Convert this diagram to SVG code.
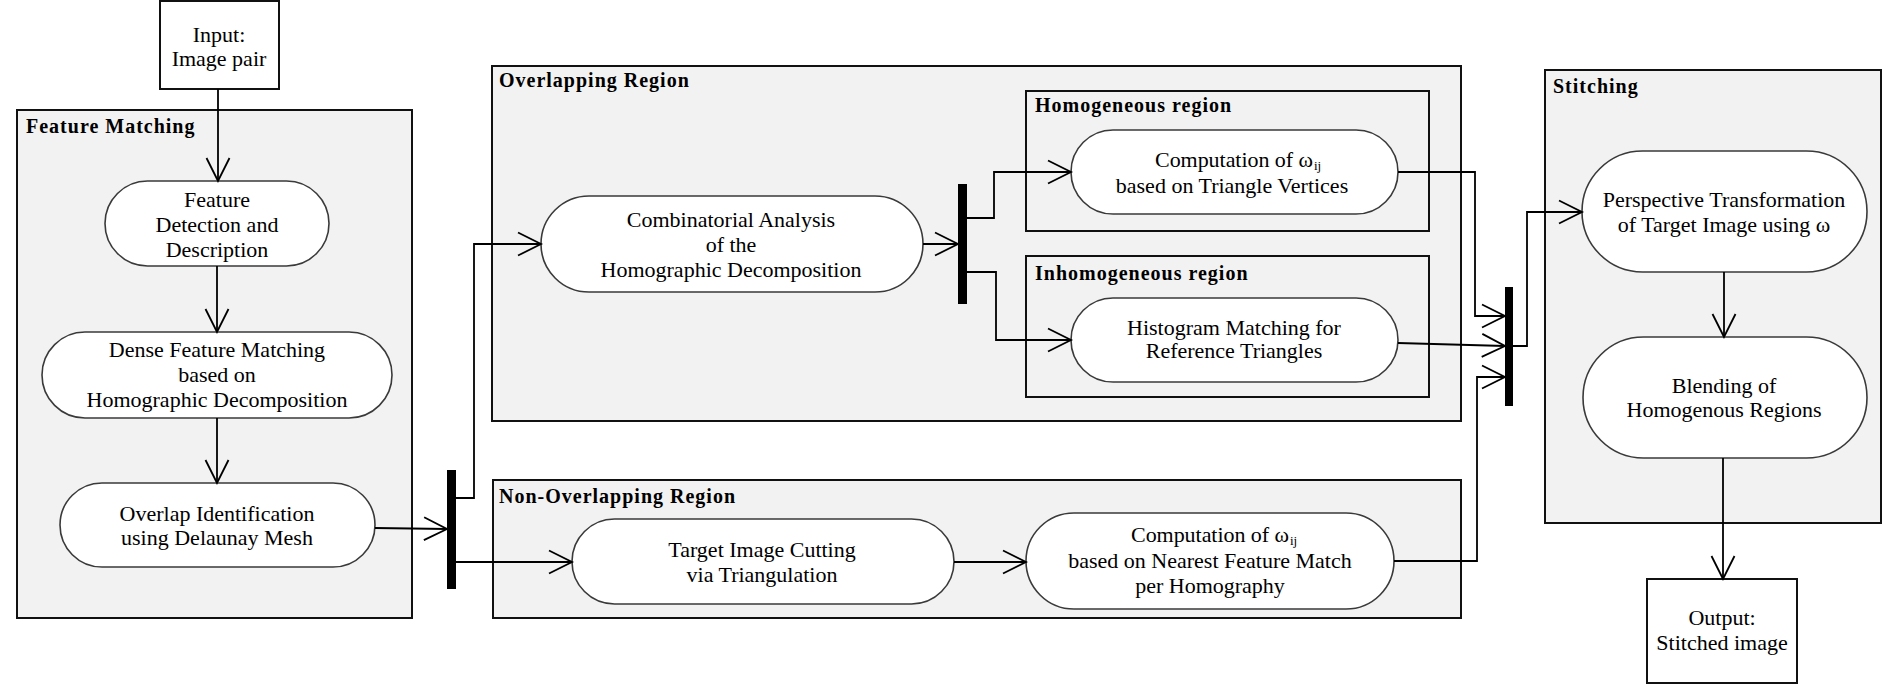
<svg xmlns="http://www.w3.org/2000/svg" width="1882" height="684" viewBox="0 0 1882 684">
<style>
.cont{fill:#f2f2f2;stroke:#111;stroke-width:2}
.node{fill:#fff;stroke:#3a3a3a;stroke-width:1.6}
.box{fill:#fff;stroke:#111;stroke-width:2}
.bar{fill:#000}
.t{font-family:"Liberation Serif","Times New Roman",serif;font-size:22px;fill:#000;text-anchor:middle}
.ts{font-family:"Liberation Serif","Times New Roman",serif;font-size:22px;fill:#000;text-anchor:start}
.sub{font-family:"Liberation Serif","Times New Roman",serif;font-size:13px;fill:#000;text-anchor:start}
.ttl{font-family:"Liberation Serif","Times New Roman",serif;font-size:20px;font-weight:bold;letter-spacing:1px;fill:#000}
.c{fill:none;stroke:#000;stroke-width:1.8}
</style>
<defs>
<marker id="arr" markerUnits="userSpaceOnUse" markerWidth="26" markerHeight="26" refX="23" refY="11.5" orient="auto" overflow="visible">
<path d="M0,0 L23,11.5 L0,23" fill="none" stroke="#000" stroke-width="1.8"/>
</marker>
</defs>
<rect width="1882" height="684" fill="#fff"/>

<g id="feature-matching">
<rect class="cont" x="17" y="110" width="395" height="508"/>
<text class="ttl" x="26" y="133">Feature Matching</text>
</g>
<g id="overlapping-region">
<rect class="cont" x="492" y="66" width="969" height="355"/>
<text class="ttl" x="499" y="87">Overlapping Region</text>
</g>
<g id="homogeneous-region">
<rect class="cont" x="1026" y="91" width="403" height="140"/>
<text class="ttl" x="1035" y="112">Homogeneous region</text>
</g>
<g id="inhomogeneous-region">
<rect class="cont" x="1026" y="256" width="403" height="141"/>
<text class="ttl" x="1035" y="280">Inhomogeneous region</text>
</g>
<g id="non-overlapping-region">
<rect class="cont" x="493" y="480" width="968" height="138"/>
<text class="ttl" x="499" y="503">Non-Overlapping Region</text>
</g>
<g id="stitching">
<rect class="cont" x="1545" y="70" width="336" height="453"/>
<text class="ttl" x="1553" y="93">Stitching</text>
</g>

<g id="input">
<rect class="box" x="160" y="1" width="119" height="88"/>
<text class="t" x="219" y="42">Input:</text>
<text class="t" x="219" y="66">Image pair</text>
</g>
<g id="feature-detection">
<rect class="node" x="105" y="181" width="224" height="85" rx="42.5"/>
<text class="t" x="217" y="207">Feature</text>
<text class="t" x="217" y="232">Detection and</text>
<text class="t" x="217" y="257">Description</text>
</g>
<g id="dense-matching">
<rect class="node" x="42" y="332" width="350" height="86" rx="43"/>
<text class="t" x="217" y="357">Dense Feature Matching</text>
<text class="t" x="217" y="382">based on</text>
<text class="t" x="217" y="407">Homographic Decomposition</text>
</g>
<g id="overlap-identification">
<rect class="node" x="60" y="483" width="315" height="84" rx="42"/>
<text class="t" x="217" y="521">Overlap Identification</text>
<text class="t" x="217" y="545">using Delaunay Mesh</text>
</g>
<g id="combinatorial">
<rect class="node" x="541" y="196" width="382" height="96" rx="48"/>
<text class="t" x="731" y="227">Combinatorial Analysis</text>
<text class="t" x="731" y="252">of the</text>
<text class="t" x="731" y="277">Homographic Decomposition</text>
</g>
<g id="computation-vertices">
<rect class="node" x="1071" y="130" width="327" height="84" rx="42"/>
<text class="ts" x="1155" y="167" textLength="158" lengthAdjust="spacing">Computation of ω</text>
<text class="sub" x="1314" y="170">ij</text>
<text class="t" x="1232" y="193">based on Triangle Vertices</text>
</g>
<g id="histogram-matching">
<rect class="node" x="1071" y="298" width="327" height="84" rx="42"/>
<text class="t" x="1234" y="335">Histogram Matching for</text>
<text class="t" x="1234" y="358">Reference Triangles</text>
</g>
<g id="target-cutting">
<rect class="node" x="572" y="519" width="382" height="85" rx="42.5"/>
<text class="t" x="762" y="557">Target Image Cutting</text>
<text class="t" x="762" y="582">via Triangulation</text>
</g>
<g id="computation-nearest">
<rect class="node" x="1026" y="513" width="368" height="96" rx="48"/>
<text class="ts" x="1131" y="542" textLength="158" lengthAdjust="spacing">Computation of ω</text>
<text class="sub" x="1290" y="545">ij</text>
<text class="t" x="1210" y="568">based on Nearest Feature Match</text>
<text class="t" x="1210" y="593">per Homography</text>
</g>
<g id="perspective">
<rect class="node" x="1582" y="151" width="285" height="121" rx="60.5"/>
<text class="t" x="1724" y="207">Perspective Transformation</text>
<text class="t" x="1724" y="232">of Target Image using ω</text>
</g>
<g id="blending">
<rect class="node" x="1583" y="337" width="284" height="121" rx="60.5"/>
<text class="t" x="1724" y="393">Blending of</text>
<text class="t" x="1724" y="417">Homogenous Regions</text>
</g>
<g id="output">
<rect class="box" x="1647" y="579" width="150" height="104"/>
<text class="t" x="1722" y="625">Output:</text>
<text class="t" x="1722" y="650">Stitched image</text>
</g>

<g id="bars">
<rect class="bar" x="447" y="470" width="9" height="119"/>
<rect class="bar" x="958" y="184" width="9" height="120"/>
<rect class="bar" x="1505" y="287" width="8" height="119"/>
</g>

<g id="connectors">
<path class="c" d="M218,89 L218,181" marker-end="url(#arr)"/>
<path class="c" d="M217,266 L217,332" marker-end="url(#arr)"/>
<path class="c" d="M217,418 L217,483" marker-end="url(#arr)"/>
<path class="c" d="M375,528 L447,529" marker-end="url(#arr)"/>
<path class="c" d="M456,498 L474,498 L474,244 L541,244" marker-end="url(#arr)"/>
<path class="c" d="M456,562 L572,562" marker-end="url(#arr)"/>
<path class="c" d="M923,244 L958,244" marker-end="url(#arr)"/>
<path class="c" d="M967,218 L994,218 L994,172 L1071,172" marker-end="url(#arr)"/>
<path class="c" d="M967,272 L996,272 L996,340 L1071,340" marker-end="url(#arr)"/>
<path class="c" d="M1398,172 L1475,172 L1475,316 L1505,316" marker-end="url(#arr)"/>
<path class="c" d="M1398,343 L1505,346" marker-end="url(#arr)"/>
<path class="c" d="M954,562 L1026,562" marker-end="url(#arr)"/>
<path class="c" d="M1394,561 L1477,561 L1477,377 L1505,377" marker-end="url(#arr)"/>
<path class="c" d="M1513,346 L1527,346 L1527,212 L1582,212" marker-end="url(#arr)"/>
<path class="c" d="M1724,272 L1724,337" marker-end="url(#arr)"/>
<path class="c" d="M1723,458 L1723,579" marker-end="url(#arr)"/>
</g>
</svg>
